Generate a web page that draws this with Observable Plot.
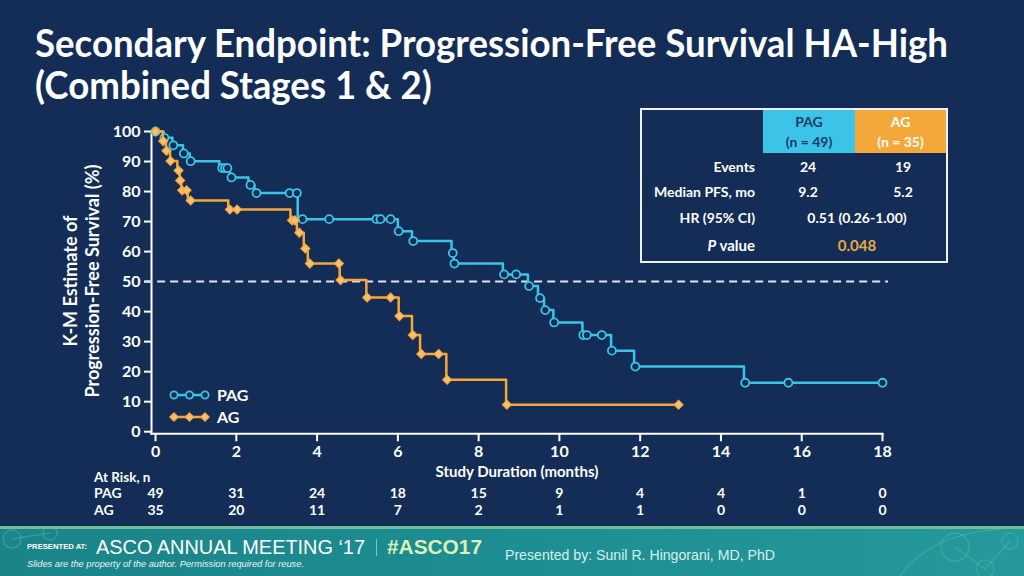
<!DOCTYPE html>
<html><head><meta charset="utf-8">
<script src="https://cdn.jsdelivr.net/npm/d3@7"></script>
<script src="https://cdn.jsdelivr.net/npm/@observablehq/plot@0.6"></script>
<style>
html,body{margin:0;padding:0;}
body{width:1024px;height:576px;overflow:hidden;background:#142d57;position:relative;font-family:Lato,"Open Sans",sans-serif;color:#fff;}
.abs{position:absolute;white-space:nowrap;}
#chart{position:absolute;left:0;top:0;}
#chart svg{overflow:visible;}
#chart text{font-weight:700;}
.title{font-weight:700;font-size:39px;line-height:39px;transform-origin:left center;}
.tb{font-weight:700;font-size:14px;line-height:16px;transform:translateY(-50%);}
.foot{font-family:"Liberation Sans",Arial,sans-serif;}
</style></head><body>
<div id="chart"></div>

<div id="t1" class="abs title" style="left:35px;top:23px;">Secondary Endpoint: Progression-Free Survival HA-High</div>
<div id="t2" class="abs title" style="left:35px;top:65px;">(Combined Stages 1 &amp; 2)</div>

<div class="abs" style="left:81px;top:281px;width:0;height:0;">
  <div style="position:absolute;left:0;top:0;transform:translate(-50%,-50%) rotate(-90deg);text-align:center;font-weight:700;font-size:18px;line-height:22px;white-space:nowrap;">K-M Estimate of<br>Progression-Free Survival (%)</div>
</div>

<div id="legend"></div>
<div id="table"></div>
<div id="risklabels"></div>
<div id="footer"></div>

<script>
// ---------- data ----------
const pagEventTimes = [0.2, 0.42, 0.68, 0.85, 1.58, 1.84, 2.3, 2.45, 3.52, 6.0, 6.35, 7.33, 7.38, 8.6, 9.22, 9.47, 9.62, 9.85, 10.57, 11.28, 11.85, 14.57];
const pagSurvival   = [97.9, 95.4, 92.7, 90.1, 87.8, 84.7, 82.2, 79.5, 70.8, 66.8, 63.5, 59.5, 56.0, 52.4, 48.5, 44.5, 40.5, 36.4, 32.2, 27.0, 21.7, 16.3];
const pagEnd = 18.0;
const pagCensorTimes = [0, 0.22, 0.44, 0.7, 0.87, 1.65, 1.72, 1.78, 1.88, 2.35, 2.5, 3.32, 3.5, 3.64, 4.3, 5.47, 5.57, 5.82, 6.02, 6.38, 7.36, 7.4, 8.63, 8.93, 9.25, 9.52, 9.65, 9.87, 10.59, 10.68, 11.05, 11.3, 11.88, 14.6, 15.67, 18.0];

const agEventTimes = [0.18, 0.26, 0.36, 0.54, 0.6, 0.64, 0.8, 1.8, 3.34, 3.5, 3.67, 3.77, 4.56, 5.22, 6.02, 6.35, 6.55, 7.2, 8.68];
const agSurvival   = [96.8, 93.6, 90.2, 87.0, 83.7, 80.4, 77.0, 74.0, 70.4, 66.3, 61.0, 56.0, 50.5, 44.7, 38.5, 32.2, 25.9, 17.3, 9.0];
const agEnd = 12.95;
const agCensorTimes = [0, 0.19, 0.27, 0.37, 0.57, 0.61, 0.66, 0.77, 0.87, 1.84, 2.02, 3.38, 3.45, 3.56, 3.71, 3.82, 4.54, 4.58, 5.24, 5.82, 6.04, 6.37, 6.58, 7.01, 7.22, 8.7, 12.95];

const xTicks = [0, 2, 4, 6, 8, 10, 12, 14, 16, 18];
const yTicks = [0, 10, 20, 30, 40, 50, 60, 70, 80, 90, 100];
const medianLine = [50];
const pagAtRisk = [49, 31, 24, 18, 15, 9, 4, 4, 1, 0];
const agAtRisk  = [35, 20, 11, 7, 2, 1, 1, 0, 0, 0];

const seriesNames = ["PAG", "AG"];
const seriesN = [49, 35];
const tableRowLabels = ["Events", "Median PFS, mo", "HR (95% CI)", "P value"];
const pagTableValues = ["24", "9.2"];
const agTableValues = ["19", "5.2"];
const hrValue = "0.51 (0.26-1.00)";
const pValue = "0.048";

// ---------- styles ----------
const BG = "#142d57";
const CYAN = "#3cc3e8";
const ORANGE = "#f4a83a";

function stepData(times, surv, end) {
  const pts = [{t: 0, s: 100}];
  times.forEach((t, i) => pts.push({t, s: surv[i]}));
  pts.push({t: end, s: surv[surv.length - 1]});
  return pts;
}
function survAt(times, surv, t) {
  let s = 100;
  for (let i = 0; i < times.length; i++) if (times[i] <= t) s = surv[i];
  return s;
}
const pagSteps = stepData(pagEventTimes, pagSurvival, pagEnd);
const agSteps = stepData(agEventTimes, agSurvival, agEnd);
const pagMarks = pagCensorTimes.map(t => ({t, s: survAt(pagEventTimes, pagSurvival, t)}));
const agMarks = agCensorTimes.map(t => ({t, s: survAt(agEventTimes, agSurvival, t)}));

const H = 525;
const chart = Plot.plot({
  width: 1024,
  height: H,
  marginLeft: 151,
  marginRight: 142,
  marginTop: 131,
  marginBottom: H - 433.3,
  x: {domain: [-0.1, 18]},
  y: {domain: [-0.7, 100]},
  style: {background: "transparent", color: "#fff", fontFamily: "Lato, 'Open Sans', sans-serif", fontSize: "16px"},
  marks: [
    Plot.axisY({ticks: yTicks, tickSize: 7, tickPadding: 4, label: null, strokeWidth: 2, fontSize: 16, fontWeight: 700}),
    Plot.axisX({ticks: xTicks, tickSize: 8, tickPadding: 4, label: null, strokeWidth: 2, fontSize: 16, fontWeight: 700}),
    Plot.frame({anchor: "left", stroke: "#fff", strokeWidth: 2}),
    Plot.frame({anchor: "bottom", stroke: "#fff", strokeWidth: 2}),
    Plot.ruleY(medianLine, {x1: -0.27, x2: 18.15, stroke: "#dfe5ec", strokeWidth: 2, strokeDasharray: "8,5"}),
    Plot.line(pagSteps, {x: "t", y: "s", curve: "step-after", stroke: CYAN, strokeWidth: 2.5}),
    Plot.dot(pagMarks, {x: "t", y: "s", r: 4, stroke: CYAN, strokeWidth: 1.8, fill: BG}),
    Plot.line(agSteps, {x: "t", y: "s", curve: "step-after", stroke: ORANGE, strokeWidth: 2.5}),
    Plot.dot(agMarks, {x: "t", y: "s", r: 4, symbol: "diamond2", stroke: ORANGE, strokeWidth: 1.2, fill: "#f8c070"}),
    Plot.text(["Study Duration (months)"], {text: d => d, frameAnchor: "bottom", lineAnchor: "middle", dy: 38, fontSize: 15, fontWeight: 700, fill: "#fff"}),
    Plot.text(xTicks, {x: d => d, text: (d, i) => String(pagAtRisk[i]), frameAnchor: "bottom", lineAnchor: "middle", dy: 59.5, fontSize: 14, fontWeight: 700, fill: "#fff"}),
    Plot.text(xTicks, {x: d => d, text: (d, i) => String(agAtRisk[i]), frameAnchor: "bottom", lineAnchor: "middle", dy: 77, fontSize: 14, fontWeight: 700, fill: "#fff"})
  ]
});
document.getElementById("chart").appendChild(chart);

// title fitting
function fitW(id, w) {
  const el = document.getElementById(id);
  const r = el.getBoundingClientRect().width;
  const k = w / r;
  el.style.transform = `scaleX(${k})`;
  return k;
}
const k1 = fitW("t1", 913);
document.getElementById("t2").style.transform = `scaleX(${k1})`;

// legend
const lg = document.getElementById("legend");
lg.innerHTML = `
<svg class="abs" style="left:0;top:0;overflow:visible" width="1024" height="576">
  <line x1="174" x2="205" y1="395" y2="395" stroke="${CYAN}" stroke-width="2.5"/>
  ${[174,189.5,205].map(x=>`<circle cx="${x}" cy="395" r="3.6" fill="${BG}" stroke="${CYAN}" stroke-width="1.8"/>`).join("")}
  <line x1="174" x2="205" y1="417" y2="417" stroke="${ORANGE}" stroke-width="2.5"/>
  ${[174,189.5,205].map(x=>`<path d="M${x},${417-4.2}L${x+4.2},417L${x},${417+4.2}L${x-4.2},417Z" fill="#f8c070" stroke="${ORANGE}" stroke-width="1.2"/>`).join("")}
</svg>
<div class="abs tb" style="left:217px;top:395px;font-size:16px;">${seriesNames[0]}</div>
<div class="abs tb" style="left:217px;top:417px;font-size:16px;">${seriesNames[1]}</div>`;

// table
const tb = document.getElementById("table");
const rowY = [167, 192, 218, 245];
let html = `<div class="abs" style="left:640px;top:108px;width:304px;height:151px;border:2px solid #eef1f4;"></div>
<div class="abs" style="left:763px;top:110px;width:92px;height:43px;background:${CYAN};"></div>
<div class="abs" style="left:855px;top:110px;width:91px;height:43px;background:${ORANGE};"></div>
<div class="abs" style="left:763px;top:112px;width:92px;text-align:center;font-weight:700;font-size:14px;line-height:20px;color:#1d3a63;">${seriesNames[0]}<br>(n = ${seriesN[0]})</div>
<div class="abs" style="left:855px;top:112px;width:91px;text-align:center;font-weight:700;font-size:14px;line-height:20px;color:#fff;">${seriesNames[1]}<br>(n = ${seriesN[1]})</div>`;
tableRowLabels.forEach((lab, i) => {
  const txt = i === 3 ? `<i>P</i> value` : lab;
  html += `<div class="abs tb" style="left:600px;width:155px;text-align:right;top:${rowY[i]}px;${i===3?'font-size:15px;':''}">${txt}</div>`;
});
pagTableValues.forEach((v, i) => {
  html += `<div class="abs tb" style="left:768px;width:80px;text-align:center;top:${rowY[i]}px;">${v}</div>`;
});
agTableValues.forEach((v, i) => {
  html += `<div class="abs tb" style="left:863px;width:80px;text-align:center;top:${rowY[i]}px;">${v}</div>`;
});
html += `<div class="abs tb" style="left:777px;width:160px;text-align:center;top:${rowY[2]}px;">${hrValue}</div>`;
html += `<div class="abs tb" style="left:777px;width:160px;text-align:center;top:${rowY[3]}px;color:#e9aa45;font-size:15px;">${pValue}</div>`;
tb.innerHTML = html;

// at risk labels
document.getElementById("risklabels").innerHTML = `
<div class="abs tb" style="left:94px;top:477px;font-size:13.5px;">At Risk, n</div>
<div class="abs tb" style="left:94px;top:493px;">${seriesNames[0]}</div>
<div class="abs tb" style="left:94px;top:510px;">${seriesNames[1]}</div>`;

// footer
document.getElementById("footer").innerHTML = `
<div class="abs" style="left:0;top:526px;width:1024px;height:3px;background:#6cbf98;"></div>
<div class="abs" style="left:0;top:529px;width:1024px;height:47px;background:linear-gradient(90deg,#1a8489 0%,#1d8e93 50%,#26999c 100%);"></div>
<svg class="abs" style="left:0;top:529px" width="1024" height="47">
  <g fill="none" stroke="#4fb6b4" stroke-opacity="0.45" stroke-width="1.5">
    <circle cx="12" cy="10" r="9"/><circle cx="50" cy="4" r="7"/><circle cx="955" cy="18" r="14"/><circle cx="985" cy="40" r="9"/><circle cx="1010" cy="12" r="8"/>
    <path d="M900,47 Q930,5 1000,0"/><path d="M12,10 L50,4"/><path d="M955,18 L985,40 L1010,12"/>
  </g>
</svg>
<div id="pat" class="abs foot" style="left:27px;top:547px;font-size:8px;line-height:8px;margin-top:-4px;font-weight:700;transform-origin:left center;">PRESENTED AT:</div>
<div id="asco" class="abs foot" style="left:96px;top:546.5px;font-size:19.5px;line-height:14px;margin-top:-7px;transform-origin:left center;">ASCO ANNUAL MEETING ‘17</div>
<div class="abs" style="left:376px;top:539px;width:1px;height:17px;background:#7cc6c2;"></div>
<div id="hash" class="abs foot" style="left:387px;top:546.5px;font-size:19.5px;line-height:14px;margin-top:-7px;font-weight:700;color:#dcefb8;transform-origin:left center;">#ASCO17</div>
<div id="pres" class="abs" style="left:505px;top:555px;font-family:'Liberation Sans',Arial,sans-serif;font-size:15px;line-height:16px;margin-top:-8px;color:#d7f0ec;transform-origin:left center;">Presented by: Sunil R. Hingorani, MD, PhD</div>
<div id="slides" class="abs" style="left:27px;top:563.5px;font-family:'Liberation Sans',Arial,sans-serif;font-size:9.5px;line-height:9px;margin-top:-4.5px;font-style:italic;color:#e8f4f2;transform-origin:left center;">Slides are the property of the author. Permission required for reuse.</div>`;
fitW("pat", 60);
fitW("asco", 269);
fitW("hash", 95);
fitW("pres", 270);
fitW("slides", 277);
</script>
</body></html>
